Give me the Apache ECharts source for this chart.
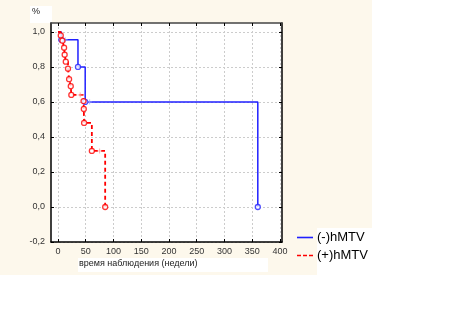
<!DOCTYPE html>
<html><head><meta charset="utf-8">
<script src="https://cdn.jsdelivr.net/npm/echarts@6/dist/echarts.min.js"></script>
<style>html,body{margin:0;padding:0;background:#fff}#c{width:456px;height:331px}</style>
</head><body><div id="c"></div>
<script>
// Tick values
const xTicks = [0, 50, 100, 150, 200, 250, 300, 350, 400];
const yTicks = [-0.2, 0, 0.2, 0.4, 0.6, 0.8, 1.0];
const xTitle = 'время наблюдения (недели)';
const yTitle = '%';
const seriesNames = ['(-)hMTV', '(+)hMTV'];

// (-)hMTV Kaplan–Meier steps
const negTimes = [0, 6, 36, 49, 360];
const negSurv  = [1.0, 0.955, 0.8, 0.6, 0.0];
const negEventTimes = [6, 36, 49, 360];
const negEventSurv  = [0.955, 0.8, 0.6, 0.0];
const negCensTimes = [13, 57];
const negCensSurv  = [0.955, 0.6];

// (+)hMTV Kaplan–Meier steps
const posTimes = [0, 5, 8, 11, 12, 14, 18, 20, 23, 24, 46, 46.5, 47, 61, 85];
const posSurv  = [1.0, 0.98, 0.95, 0.91, 0.87, 0.83, 0.79, 0.73, 0.69, 0.64, 0.605, 0.56, 0.48, 0.32, 0.0];
const posEventTimes = [5, 8, 11, 12, 14, 18, 20, 23, 24, 46, 46.5, 47, 61, 85];
const posEventSurv  = [0.98, 0.95, 0.91, 0.87, 0.83, 0.79, 0.73, 0.69, 0.64, 0.605, 0.56, 0.48, 0.32, 0.0];
const posCensTimes = [40, 75];
const posCensSurv  = [0.64, 0.32];

const zip = (a, b) => a.map((v, i) => [v, b[i]]);
const BLUE = '#2020ff', RED = '#ff0000';
const FONT = '"Liberation Sans", Arial, sans-serif';
const plus = 'path://M0,5L10,5M5,0L5,10';

const chart = echarts.init(document.getElementById('c'), null, {renderer: 'canvas'});
const xMin = -12.6, xMax = 403.6, yMin = -0.2, yMax = 1.051;
const commonX = {type: 'value', min: xMin, max: xMax};
const commonY = {type: 'value', min: yMin, max: yMax};
chart.setOption({
  animation: false,
  backgroundColor: '#ffffff',
  graphic: [
    {type: 'rect', z: -10, shape: {x: 0, y: 0, width: 372, height: 228}, style: {fill: '#fdf8ec'}},
    {type: 'rect', z: -10, shape: {x: 0, y: 228, width: 317, height: 47}, style: {fill: '#fdf8ec'}},
    {type: 'rect', z: -9, shape: {x: 78, y: 258, width: 190, height: 14}, style: {fill: '#ffffff'}},
    {type: 'rect', z: -9, shape: {x: 30, y: 6, width: 22, height: 17}, style: {fill: '#ffffff'}},
    {type: 'text', left: 79, top: 259, style: {text: xTitle, font: '9px ' + FONT, fill: '#222'}},
    {type: 'text', left: 32, top: 7, style: {text: yTitle, font: '9px ' + FONT, fill: '#222'}}
  ],
  grid: {left: 51, top: 23, width: 231, height: 219, show: true, backgroundColor: '#ffffff', borderWidth: 0},
  legend: {
    data: [
      {name: seriesNames[0], icon: 'path://M0,0h16v1.6h-16z'},
      {name: seriesNames[1], icon: 'path://M0,0h4v1.6h-4zM6,0h4v1.6h-4zM12,0h4v1.6h-4z'}
    ],
    orient: 'vertical', left: 297, top: 231, padding: 0,
    itemWidth: 16, itemHeight: 14, itemGap: 5, symbolKeepAspect: true,
    textStyle: {fontSize: 13, fontFamily: FONT, color: '#000', padding: [0, 0, 0, -1]},
    backgroundColor: 'transparent'
  },
  xAxis: [
    Object.assign({}, commonX, {
      position: 'bottom',
      axisLine: {show: true, onZero: false, lineStyle: {color: '#000', width: 1.5}},
      axisTick: {show: true, inside: true, length: 3, customValues: xTicks, lineStyle: {color: '#000'}},
      axisLabel: {customValues: xTicks, margin: 5, fontSize: 9, fontFamily: FONT, color: '#333'},
      splitLine: {show: true, lineStyle: {color: '#cccccc', type: [2, 2], width: 1}}
    }),
    Object.assign({}, commonX, {
      position: 'top',
      axisLine: {show: true, onZero: false, lineStyle: {color: '#444', width: 1.5}},
      axisTick: {show: true, inside: true, length: 3, customValues: xTicks, lineStyle: {color: '#000'}},
      axisLabel: {show: false},
      splitLine: {show: false}
    })
  ],
  yAxis: [
    Object.assign({}, commonY, {
      position: 'left',
      axisLine: {show: true, onZero: false, lineStyle: {color: '#000', width: 1.5}},
      axisTick: {show: true, inside: true, length: 3, customValues: yTicks, lineStyle: {color: '#000'}},
      axisLabel: {customValues: yTicks, margin: 6, fontSize: 9, fontFamily: FONT, color: '#333',
        formatter: v => (Math.abs(v) < 1e-9 ? 0 : v).toFixed(1).replace('.', ',')},
      splitLine: {show: true, lineStyle: {color: '#cccccc', type: [2, 2], width: 1}}
    }),
    Object.assign({}, commonY, {
      position: 'right',
      axisLine: {show: true, onZero: false, lineStyle: {color: '#000', width: 1.5}},
      axisTick: {show: true, inside: true, length: 3, customValues: yTicks, lineStyle: {color: '#000'}},
      axisLabel: {show: false},
      splitLine: {show: false}
    })
  ],
  series: [
    {name: seriesNames[0], type: 'line', step: 'end', symbol: 'none', data: zip(negTimes, negSurv),
      lineStyle: {color: BLUE, width: 1.5}, itemStyle: {color: BLUE}, z: 3},
    {name: seriesNames[1], type: 'line', step: 'end', symbol: 'none', data: zip(posTimes, posSurv),
      lineStyle: {color: RED, width: 1.8, type: [4, 3]}, itemStyle: {color: RED}, z: 4},
    {name: 'negEvents', type: 'scatter', data: zip(negEventTimes, negEventSurv), symbol: 'circle', symbolSize: 5,
      itemStyle: {color: '#fff', borderColor: BLUE, borderWidth: 1.3}, z: 5},
    {name: 'posEvents', type: 'scatter', data: zip(posEventTimes, posEventSurv), symbol: 'circle', symbolSize: 5,
      itemStyle: {color: '#fff', borderColor: RED, borderWidth: 1.3}, z: 6},
    {name: 'negCens', type: 'scatter', data: zip(negCensTimes, negCensSurv), symbol: plus, symbolSize: 5,
      itemStyle: {color: 'none', borderColor: '#9fa8ff', borderWidth: 1}, z: 5},
    {name: 'posCens', type: 'scatter', data: zip(posCensTimes, posCensSurv), symbol: plus, symbolSize: 5,
      itemStyle: {color: 'none', borderColor: '#ff9a9a', borderWidth: 1}, z: 6}
  ]
});
</script></body></html>
